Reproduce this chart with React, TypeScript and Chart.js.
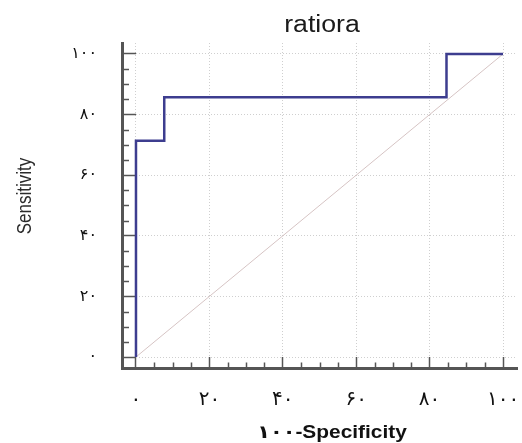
import React, { useEffect, useRef } from "react";
import { Chart, registerables } from "chart.js";

Chart.register(...registerables);

// ROC curve (1 - specificity in %, sensitivity in %)
const rocFpr = [0, 0, 7.7, 7.7, 84.6, 84.6, 100];
const rocTpr = [0, 71.4, 71.4, 85.7, 85.7, 100, 100];
// reference diagonal
const diagX = [0, 100];
const diagY = [0, 100];

const tickValues = [0, 20, 40, 60, 80, 100];
const xTickLabels = ["۰", "۲۰", "۴۰", "۶۰", "۸۰", "۱۰۰"];
const yTickLabels = ["۰", "۲۰", "۴۰", "۶۰", "۸۰", "۱۰۰"];

const chartTitle = "ratiora";
const xTitle = "۱۰۰-Specificity";
const yTitle = "Sensitivity";

const AXIS_COLOR = "#555555";
const STRETCH = 1.16;

const decorPlugin = {
  id: "decor",
  afterDraw(chart: any) {
    const { ctx, scales } = chart;
    const xs = scales.x;
    const ys = scales.y;
    ctx.save();
    ctx.strokeStyle = AXIS_COLOR;
    ctx.lineWidth = 1.5;
    for (let v = 5; v < 100; v += 5) {
      if (v % 20 === 0) continue;
      const px = Math.round(xs.getPixelForValue(v)) + 0.5;
      ctx.beginPath();
      ctx.moveTo(px, xs.top);
      ctx.lineTo(px, xs.top - 5.5);
      ctx.stroke();
      const py = Math.round(ys.getPixelForValue(v)) + 0.5;
      ctx.beginPath();
      ctx.moveTo(ys.right, py);
      ctx.lineTo(ys.right + 7, py);
      ctx.stroke();
    }
    ctx.restore();

    const text = (
      t: string,
      cx: number,
      cy: number,
      font: string,
      color: string,
      baseline: CanvasTextBaseline,
      rotate: boolean
    ) => {
      ctx.save();
      ctx.translate(cx, cy);
      ctx.scale(STRETCH, 1);
      if (rotate) ctx.rotate(-Math.PI / 2);
      ctx.font = font;
      ctx.fillStyle = color;
      ctx.textAlign = "center";
      ctx.textBaseline = baseline;
      ctx.fillText(t, 0, 0);
      ctx.restore();
    };
    text(chartTitle, 322, 32, "23px 'Liberation Sans', Arial, sans-serif", "#1a1a1a", "alphabetic", false);
    text(yTitle, 26, 196, "17px 'Liberation Sans', Arial, sans-serif", "#2a2a2a", "middle", true);
    text(xTitle, 332, 438, "bold 18px 'Liberation Sans', 'DejaVu Sans', sans-serif", "#111111", "alphabetic", false);
  },
};

export default function App() {
  const ref = useRef<HTMLCanvasElement | null>(null);

  useEffect(() => {
    if (!ref.current) return;
    const chart = new Chart(ref.current, {
      type: "scatter",
      data: {
        datasets: [
          {
            label: "ROC",
            data: rocFpr.map((x, i) => ({ x, y: rocTpr[i] })),
            showLine: true,
            borderColor: "#3d3d8f",
            borderWidth: 2.5,
            pointRadius: 0,
            fill: false,
            tension: 0,
          },
          {
            label: "Reference",
            data: diagX.map((x, i) => ({ x, y: diagY[i] })),
            showLine: true,
            borderColor: "#d6c4c4",
            borderWidth: 1,
            pointRadius: 0,
            fill: false,
          },
        ],
      },
      options: {
        animation: false,
        responsive: false,
        devicePixelRatio: 1,
        layout: { padding: { top: 43, left: 0, right: 5, bottom: 0 } },
        plugins: {
          legend: { display: false },
          tooltip: { enabled: false },
          title: { display: false },
        },
        scales: {
          x: {
            type: "linear",
            min: -3.81,
            max: 103.81,
            afterBuildTicks: (s: any) => {
              s.ticks = tickValues.map((v) => ({ value: v }));
            },
            afterFit: (s: any) => {
              s.height = 75;
              s.paddingLeft = 0;
              s.paddingRight = 0;
            },
            ticks: {
              autoSkip: false,
              maxRotation: 0,
              padding: 31,
              color: "#111111",
              font: { family: "'DejaVu Sans', sans-serif", size: 20 },
              callback: (_v: any, i: number) => xTickLabels[i],
            },
            grid: {
              color: "#cfcfcf",
              lineWidth: 1,
              tickLength: -11,
              tickColor: AXIS_COLOR,
              tickWidth: 1.5,
            },
            border: { display: true, color: AXIS_COLOR, width: 3, dash: [1, 2] },
          },
          y: {
            type: "linear",
            min: -3.63,
            max: 103.63,
            afterBuildTicks: (s: any) => {
              s.ticks = tickValues.map((v) => ({ value: v }));
            },
            afterFit: (s: any) => {
              s.width = 122;
              s.paddingTop = 0;
              s.paddingBottom = 0;
            },
            ticks: {
              autoSkip: false,
              padding: 39,
              color: "#111111",
              font: { family: "'DejaVu Sans', sans-serif", size: 16 },
              callback: (_v: any, i: number) => yTickLabels[i],
            },
            grid: {
              color: "#cfcfcf",
              lineWidth: 1,
              tickLength: -14,
              tickColor: AXIS_COLOR,
              tickWidth: 1.5,
            },
            border: { display: true, color: AXIS_COLOR, width: 3, dash: [1, 2] },
          },
        },
      },
      plugins: [decorPlugin],
    } as any);
    return () => chart.destroy();
  }, []);

  return (
    <div style={{ position: "absolute", left: 0, top: 0, width: 522, height: 443, background: "#ffffff" }}>
      <canvas ref={ref} width={522} height={443} style={{ display: "block" }} />
    </div>
  );
}
